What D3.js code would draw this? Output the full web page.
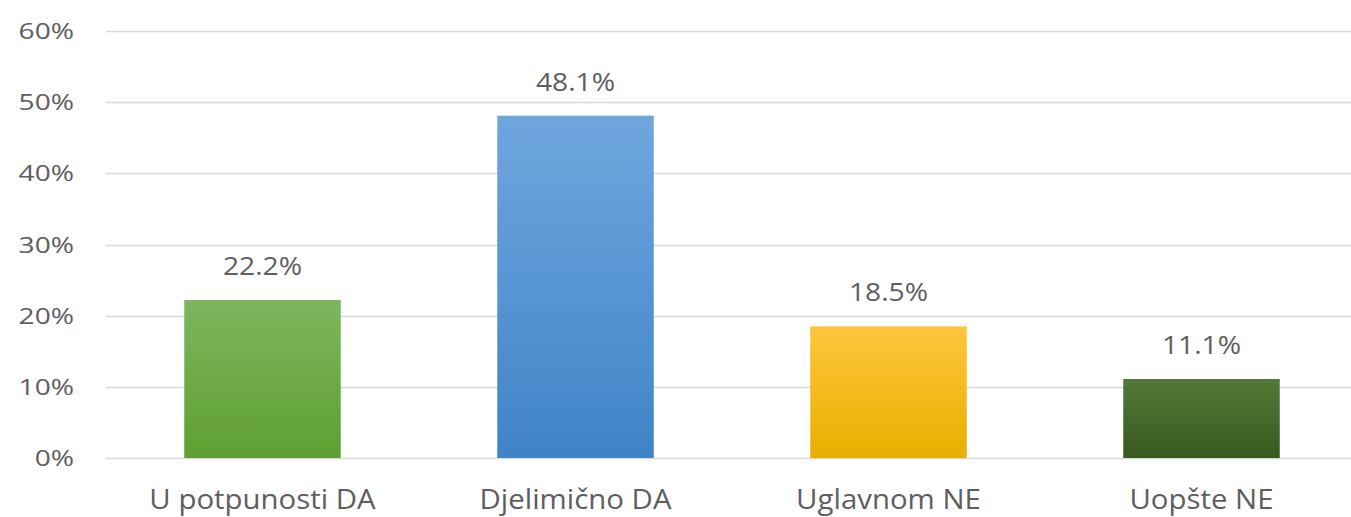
<!DOCTYPE html>
<html>
<head>
<meta charset="utf-8">
<script src="https://cdn.jsdelivr.net/npm/d3@7"></script>
<style>
  body { margin: 0; background: #fff; }
  svg text { font-family: "Open Sans", sans-serif; fill: #5e5e5e; }
</style>
</head>
<body>
<svg width="1351" height="517"></svg>
<script>
const categories = ["U potpunosti DA", "Djelimično DA", "Uglavnom NE", "Uopšte NE"]
const values = [22.2, 48.1, 18.5, 11.1]
const yTicks = [0, 10, 20, 30, 40, 50, 60]
const colorTop = ["#7db65e", "#70a6de", "#ffc53d", "#52793a"]
const colorBottom = ["#5f9f30", "#3f84c7", "#e7b000", "#375a1f"]

const svg = d3.select("svg")

var x = d3.scaleBand()
    .domain(categories)
    .range([106, 1358])
    .paddingInner(0.5)
    .paddingOuter(0.25)

var y = d3.scaleLinear()
    .domain([0, 60])
    .range([458, 31])

const defs = svg.append("defs")
categories.forEach((c, i) => {
	const g = defs.append("linearGradient")
		.attr("id", "grad" + i)
		.attr("x1", 0).attr("y1", 0).attr("x2", 0).attr("y2", 1)
	g.append("stop").attr("offset", "0%").attr("stop-color", colorTop[i])
	g.append("stop").attr("offset", "100%").attr("stop-color", colorBottom[i])
})

// gridlines
svg.append("g")
	.selectAll("line")
	.data(yTicks).enter()
	.append("line")
	.attr("x1", 106)
	.attr("x2", 1351)
	.attr("y1", d => Math.round(y(d)) + 0.5)
	.attr("y2", d => Math.round(y(d)) + 0.5)
	.style("stroke", "#d9d9d9")
	.style("stroke-width", 1.5)

// y labels (source text is a bit stretched sideways)
svg.append("g")
	.selectAll("text")
	.data(yTicks).enter()
	.append("text")
	.attr("transform", d => "translate(74," + y(d) + ") scale(1.25,1)")
	.attr("dy", "0.36em")
	.attr("text-anchor", "end")
	.style("font-size", "22.5px")
	.text(d => d + "%")

// bars
svg.append("g")
	.selectAll("rect")
	.data(values).enter()
	.append("rect")
	.attr("x", (d, i) => x(categories[i]))
	.attr("y", d => y(d))
	.attr("width", x.bandwidth())
	.attr("height", d => y(0) - y(d))
	.style("fill", (d, i) => "url(#grad" + i + ")")

// value labels
svg.append("g")
	.selectAll("text")
	.data(values).enter()
	.append("text")
	.attr("transform", (d, i) => "translate(" + (x(categories[i]) + x.bandwidth() / 2) + "," + (y(d) - 25) + ") scale(1.13,1)")
	.attr("text-anchor", "middle")
	.style("font-size", "25px")
	.text(d => d.toFixed(1) + "%")

// x labels
svg.append("g")
	.selectAll("text")
	.data(categories).enter()
	.append("text")
	.attr("transform", d => "translate(" + (x(d) + x.bandwidth() / 2) + ",509) scale(1.05,1)")
	.attr("text-anchor", "middle")
	.style("font-size", "28px")
	.text(d => d)
</script>
</body>
</html>
